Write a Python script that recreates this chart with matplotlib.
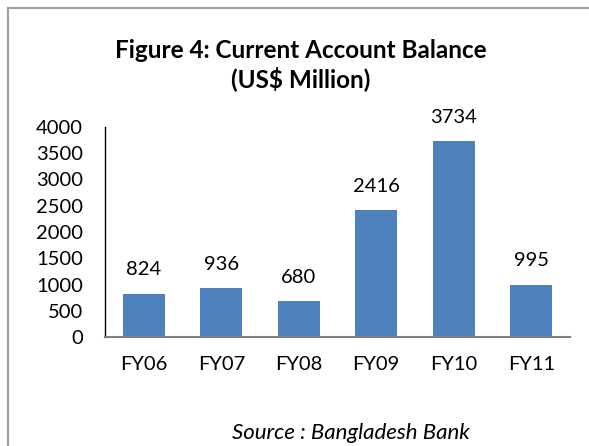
import matplotlib
matplotlib.use("Agg")
import matplotlib.pyplot as plt
from matplotlib.lines import Line2D

categories = ["FY06", "FY07", "FY08", "FY09", "FY10", "FY11"]
values = [824, 936, 680, 2416, 3734, 995]
yticks = [0, 500, 1000, 1500, 2000, 2500, 3000, 3500, 4000]

plt.rcParams['font.family'] = ['Lato', 'DejaVu Sans']

W, H = 589, 446
fig = plt.figure(figsize=(W/100, H/100), dpi=100)

# border (top and left visible)
fig.add_artist(Line2D([7.5/W, 1.0], [1-8/H, 1-8/H], transform=fig.transFigure,
                      color='#a0a0a0', linewidth=1.5))
fig.add_artist(Line2D([7.5/W, 7.5/W], [0.0, 1-8/H], transform=fig.transFigure,
                      color='#a0a0a0', linewidth=1.5))

ax = fig.add_axes([105/W, 1-337/H, (570-105)/W, (337-127)/H])
x = range(len(categories))
ax.bar(x, values, width=0.54, color='#4F81BD')
for xi, v in zip(x, values):
    ax.annotate(str(v), (xi, v), xytext=(0, 11), textcoords='offset points',
                ha='center', va='bottom', fontsize=14.5)

ax.set_ylim(0, 4000)
ax.set_xlim(-0.5, len(categories) - 0.5)
ax.set_yticks(yticks)
ax.set_yticklabels([str(t) for t in yticks], fontsize=14.5)
ax.set_xticks(list(x))
ax.set_xticklabels(categories, fontsize=14.5)
ax.tick_params(axis='y', length=0, pad=16)
ax.tick_params(axis='x', length=0, pad=14)
ax.spines['top'].set_visible(False)
ax.spines['right'].set_visible(False)
ax.spines['left'].set_color('black')
ax.spines['left'].set_linewidth(1.0)
ax.spines['bottom'].set_color('#808080')
ax.spines['bottom'].set_linewidth(1.5)

fig.text(301/W, 1-50/H, "Figure 4: Current Account Balance", ha='center', va='center',
         fontsize=17.5, fontweight='bold')
fig.text(301/W, 1-79/H, "(US$ Million)", ha='center', va='center',
         fontsize=17.5, fontweight='bold')
fig.text(351/W, 1-433/H, "Source : Bangladesh Bank", ha='center', va='center',
         fontsize=16, style='italic')

fig.savefig("out.png", dpi=100)
